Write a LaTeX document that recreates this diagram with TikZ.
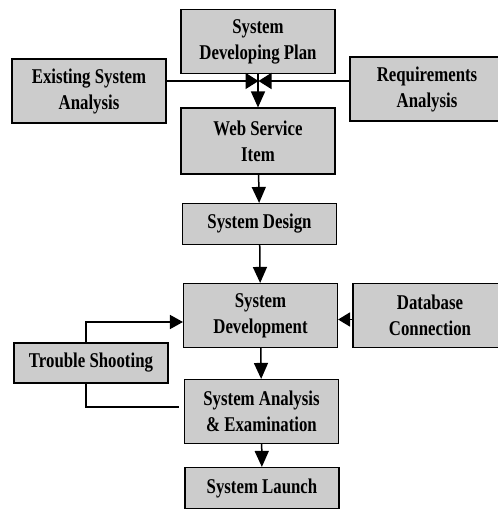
\documentclass[tikz,border=0pt]{standalone}
\usepackage{fontspec}
\setmainfont{Liberation Serif}[FakeStretch=0.8]
\usetikzlibrary{arrows.meta}
\tikzset{
every picture/.style={line width=1.5pt, >={Triangle[width=14pt,length=16pt]},
                      x=1pt, y=-1pt},
%%%%%%%%%%  Node styles
stepbox/.style={draw, line width=1.1pt, fill=black!20, align=center,
                minimum width=154pt, inner sep=2pt,
                font=\bfseries\fontsize{21}{26}\selectfont},
twoline/.style={stepbox, minimum height=64pt},
oneline/.style={stepbox, minimum height=41pt},
%%%% connector styles
flow/.style={->},
loop/.style={-}
}
\begin{document}
\begin{tikzpicture}
\useasboundingbox (0,0) rectangle (497,510);
\node[twoline] (plan) at (258,41.5) {System\\Developing Plan};
\node[twoline] (exist) at (89,91) {Existing System\\Analysis};
\node[twoline] (req) at (427,89) {Requirements\\Analysis};
\node[twoline, minimum height=66pt] (web) at (258,141) {Web Service\\Item};
\node[oneline] (design) at (259.5,224) {System Design};
\node[twoline] (dev) at (260.5,315.5) {System\\Development};
\node[twoline] (db) at (430,315.5) {Database\\Connection};
\node[oneline, minimum height=40pt] (trouble) at (91,363) {Trouble Shooting};
\node[twoline] (exam) at (261.5,411.5) {System Analysis\\\& Examination};
\node[oneline] (launch) at (262,488) {System Launch};
\coordinate (hub) at (258.5,81);
\coordinate (back) at (179,407);
\draw[flow, >={Triangle[width=16pt,length=13pt]}] (exist.east |- hub) -- (hub);
\draw[flow, >={Triangle[width=16pt,length=13pt]}] (req.west |- hub) -- (hub);
\draw[flow] (plan) -- (web);
\draw[flow] (web) -- (design);
\draw[flow] (design) -- (dev);
\draw[flow] (dev) -- (exam);
\draw[flow] (exam) -- (launch);
\draw[flow, >={Triangle[width=14pt,length=12pt]}] ([yshift=-4pt]db.west) -- ([yshift=-4pt]dev.west -| dev.east);
\draw[flow, >={Triangle[width=14pt,length=13pt]}] ([xshift=-5pt]trouble.north) |- ([yshift=-6.5pt]dev.west);
\draw[loop] ([xshift=-5pt]trouble.south) |- (back);
\end{tikzpicture}
\end{document}
